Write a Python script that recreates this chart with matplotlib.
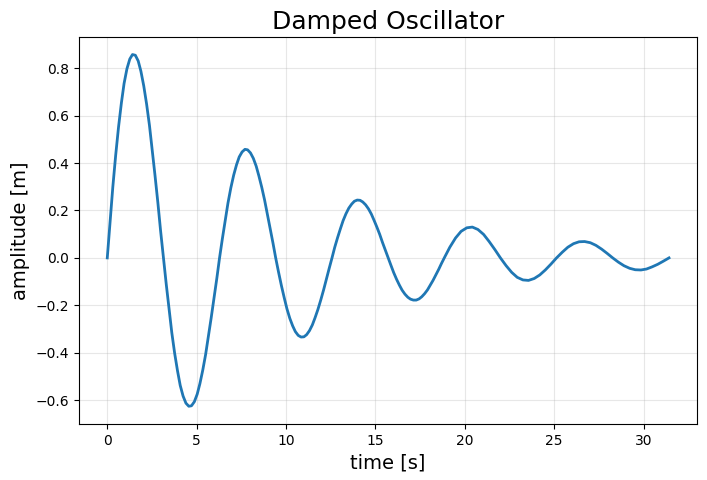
import matplotlib
matplotlib.use("Agg")
from matplotlib import pyplot as plt

# values, every ~0.31 s
time = [0.00, 0.31, 0.63, 0.94, 1.26, 1.57, 1.88, 2.20, 2.51, 2.83,
        3.14, 3.46, 3.77, 4.08, 4.40, 4.71, 5.03, 5.34, 5.65, 5.97,
        6.28, 6.60, 6.91, 7.23, 7.54, 7.85, 8.17, 8.48, 8.80, 9.11,
        9.42, 9.74, 10.05, 10.37, 10.68, 11.00, 11.31, 11.62, 11.94, 12.25,
        12.57, 12.88, 13.19, 13.51, 13.82, 14.14, 14.45, 14.77, 15.08, 15.39,
        15.71, 16.02, 16.34, 16.65, 16.96, 17.28, 17.59, 17.91, 18.22, 18.54,
        18.85, 19.16, 19.48, 19.79, 20.11, 20.42, 20.73, 21.05, 21.36, 21.68,
        21.99, 22.31, 22.62, 22.93, 23.25, 23.56, 23.88, 24.19, 24.50, 24.82,
        25.13, 25.45, 25.76, 26.08, 26.39, 26.70, 27.02, 27.33, 27.65, 27.96,
        28.27, 28.59, 28.90, 29.22, 29.53, 29.85, 30.16, 30.47, 30.79, 31.10,
        31.42]

amplitude = [0.000, 0.299, 0.552, 0.736, 0.839, 0.855, 0.788, 0.649, 0.457, 0.233,
             0.000, -0.219, -0.403, -0.538, -0.613, -0.624, -0.575, -0.474, -0.334, -0.170,
             0.000, 0.160, 0.295, 0.393, 0.447, 0.456, 0.420, 0.346, 0.244, 0.124,
             0.000, -0.117, -0.215, -0.287, -0.327, -0.333, -0.307, -0.253, -0.178, -0.091,
             0.000, 0.085, 0.157, 0.210, 0.239, 0.243, 0.224, 0.185, 0.130, 0.066,
             0.000, -0.062, -0.115, -0.153, -0.174, -0.178, -0.164, -0.135, -0.095, -0.048,
             0.000, 0.045, 0.084, 0.112, 0.127, 0.130, 0.120, 0.099, 0.069, 0.035,
             0.000, -0.033, -0.061, -0.082, -0.093, -0.095, -0.087, -0.072, -0.051, -0.026,
             0.000, 0.024, 0.045, 0.060, 0.068, 0.069, 0.064, 0.053, 0.037, 0.019,
             0.000, -0.018, -0.033, -0.044, -0.050, -0.051, -0.047, -0.038, -0.027, -0.014,
             0.000]

# extra readings in between, where the swings are large
time_extra = [0.16, 0.47, 0.79, 1.10, 1.41, 1.73, 2.04, 2.36, 2.67, 2.98,
              3.30, 3.61, 3.93, 4.24, 4.56, 4.87, 5.18, 5.50, 5.81, 6.13,
              6.44, 6.75, 7.07, 7.38, 7.70, 8.01, 8.33, 8.64, 8.95, 9.27,
              9.58, 9.90, 10.21, 10.52, 10.84, 11.15, 11.47, 11.78, 12.10, 12.41,
              12.72, 13.04, 13.35, 13.67, 13.98, 14.29, 14.61, 14.92, 15.24, 15.55,
              15.87, 16.18, 16.49, 16.81, 17.12, 17.44, 17.75, 18.06, 18.38, 18.69]

amplitude_extra = [0.154, 0.433, 0.654, 0.798, 0.858, 0.831, 0.726, 0.559, 0.348, 0.116,
                   -0.112, -0.316, -0.477, -0.583, -0.626, -0.607, -0.531, -0.408, -0.254, -0.085,
                   0.082, 0.231, 0.349, 0.426, 0.458, 0.443, 0.387, 0.298, 0.185, 0.062,
                   -0.060, -0.169, -0.255, -0.311, -0.334, -0.324, -0.283, -0.218, -0.135, -0.045,
                   0.044, 0.123, 0.186, 0.227, 0.244, 0.236, 0.207, 0.159, 0.099, 0.033,
                   -0.032, -0.090, -0.136, -0.166, -0.178, -0.173, -0.151, -0.116, -0.072, -0.024]

points = sorted(zip(time + time_extra, amplitude + amplitude_extra))
t_all = [p[0] for p in points]
a_all = [p[1] for p in points]

fig, ax = plt.subplots(figsize=(7.07, 4.8), dpi=100)
fig.subplots_adjust(left=0.112, right=0.986, top=0.923, bottom=0.117)

ax.plot(t_all, a_all, color='#1f77b4', linewidth=2)
ax.set_title('Damped Oscillator', fontsize=18)
ax.set_xlabel('time [s]', fontsize=14)
ax.set_ylabel('amplitude [m]', fontsize=14)
ax.grid(True, alpha=0.3)

fig.savefig('out.png')
